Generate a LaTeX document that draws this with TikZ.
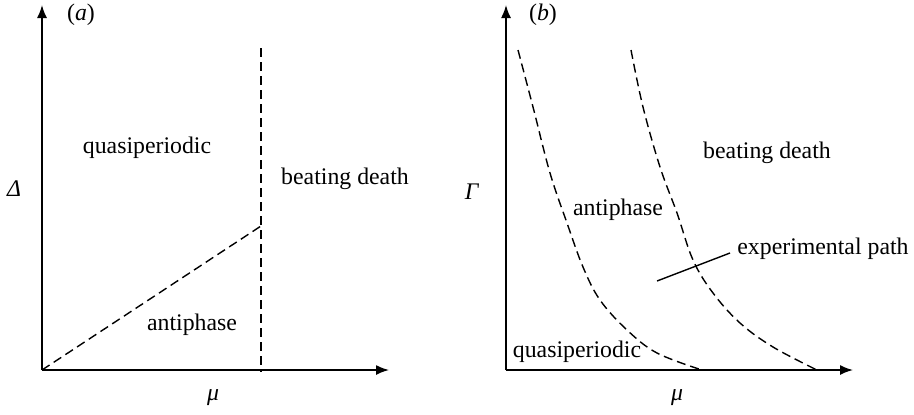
\documentclass[tikz,border=0pt]{standalone}
\usepackage{fontspec}
\setmainfont{Liberation Serif}
\usetikzlibrary{arrows.meta}
\begin{document}
\begin{tikzpicture}[x=0.5pt,y=-0.5pt,
  axis/.style={line width=0.8pt,-{Latex[length=6.5pt,width=5pt]}},
  bound/.style={line width=0.7pt,dashed,dash pattern=on 4.5pt off 2.5pt},
  lbl/.style={inner sep=0pt,font=\fontsize{11.9}{14}\selectfont},
  path/.style={line width=0.7pt}]
\useasboundingbox (0,0) rectangle (914,414);
% panel (a)
\coordinate (oa) at (42,370);
\coordinate (ya) at (42,5);
\coordinate (xa) at (389,370);
\draw[axis] (oa) -- (ya);
\draw[axis] (oa) -- (xa);
\coordinate (va) at (261,48);
\coordinate (vb) at (261,372);
\coordinate (ma) at (261,226);
\draw[bound] (va) -- (vb);
\draw[bound] (oa) -- (ma);
\node[lbl] (la) at (81,15) {(\textit{a})};
\node[lbl] (qa) at (147,148) {quasiperiodic};
\node[lbl] (ba) at (345,179) {beating death};
\node[lbl] (aa) at (192,325) {antiphase};
\node[lbl] (da) at (14,189) {\textit{Δ}};
\node[lbl] (mua) at (213,398) {\textit{μ}};
% panel (b)
\coordinate (ob) at (506,370);
\coordinate (yb) at (506,5);
\coordinate (xb) at (853,370);
\draw[axis] (ob) -- (yb);
\draw[axis] (ob) -- (xb);
\draw[bound] plot[smooth,tension=0.6] coordinates {(518,50) (533,107) (550,173) (567,223) (583,267) (600,300) (627,330) (657,353) (702,370)};
\draw[bound] plot[smooth,tension=0.6] coordinates {(631,50) (643,107) (660,167) (677,213) (693,260) (713,293) (740,323) (773,347) (817,370)};
\coordinate (pa) at (657,281);
\coordinate (pb) at (730,253);
\draw[path] (pa) -- (pb);
\node[lbl] (lb) at (543,15) {(\textit{b})};
\node[lbl,anchor=west] (ep) at (737,249) {experimental path};
\node[lbl] (bb) at (767,153) {beating death};
\node[lbl] (ab) at (618,210) {antiphase};
\node[lbl] (qb) at (577,352) {quasiperiodic};
\node[lbl] (gb) at (472,192) {\textit{Γ}};
\node[lbl] (mub) at (677,398) {\textit{μ}};
\end{tikzpicture}
\end{document}
